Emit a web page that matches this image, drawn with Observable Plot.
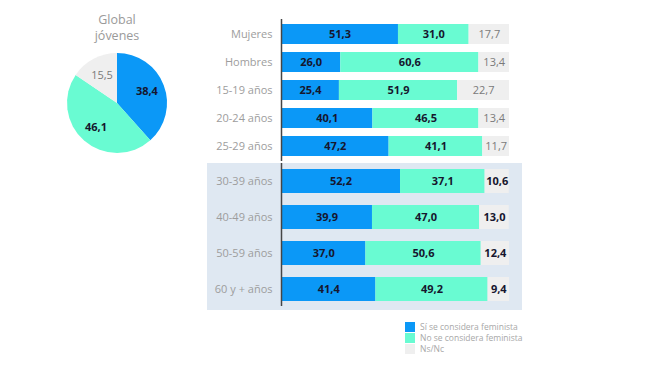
<!DOCTYPE html>
<html>
<head>
<meta charset="utf-8">
<script src="https://cdn.jsdelivr.net/npm/d3@7"></script>
<script src="https://cdn.jsdelivr.net/npm/@observablehq/plot@0.6"></script>
<style>
  body { margin: 0; background: #fff; font-family: "Open Sans", sans-serif; }
  #wrap { position: relative; width: 650px; height: 365px; overflow: hidden; }
  #wrap > * { position: absolute; }
  #panel { left: 207px; top: 163px; width: 315px; height: 147px; background: #dfe8f2; }
  #legend { left: 405px; top: 321px; font-size: 8.5px; color: #a8a8a8; line-height: 11px; }
  #legend div { display: flex; align-items: center; height: 11px; }
  #legend span.sw { display: inline-block; width: 10px; height: 10px; margin-right: 5px; }
</style>
</head>
<body>
<div id="wrap">
  <div id="panel"></div>
</div>
<script>
const categories = ["Mujeres", "Hombres", "15-19 años", "20-24 años", "25-29 años",
                    "30-39 años", "40-49 años", "50-59 años", "60 y + años"];
const siValues = [51.3, 26.0, 25.4, 40.1, 47.2, 52.2, 39.9, 37.0, 41.4];
const noValues = [31.0, 60.6, 51.9, 46.5, 41.1, 37.1, 47.0, 50.6, 49.2];
const nsValues = [17.7, 13.4, 22.7, 13.4, 11.7, 10.6, 13.0, 12.4, 9.4];
const series = ["Sí se considera feminista", "No se considera feminista", "Ns/Nc"];
const colors = ["#0b98f7", "#69fbd2", "#efefef"];
const pieTitle = ["Global", "jóvenes"];
const pieValues = [38.4, 46.1, 15.5];

const fmt = v => v.toFixed(1).replace(".", ",");
const dark = "#16162e";

const rows = [];
categories.forEach((c, i) => {
  [siValues[i], noValues[i], nsValues[i]].forEach((v, s) => {
    rows.push({cat: c, serie: series[s], s, value: v, group: i < 5 ? 0 : 1});
  });
});

function barChart(group, height, mTop, mBottom, inset) {
  const data = rows.filter(d => d.group === group);
  const cats = categories.filter((c, i) => (i < 5 ? 0 : 1) === group);
  const isBold = d => d.s < 2 || group === 1;
  return Plot.plot({
    width: 650,
    height,
    marginLeft: 281,
    marginRight: 141,
    marginTop: mTop,
    marginBottom: mBottom,
    style: {background: "transparent", fontFamily: "Open Sans, sans-serif"},
    x: {domain: [0, 100], axis: null},
    y: {domain: cats, padding: 0, axis: null},
    color: {domain: series, range: colors},
    marks: [
      Plot.barX(data, Plot.stackX({x: "value", y: "cat", fill: "serie", order: series, insetTop: inset, insetBottom: inset})),
      Plot.text(data, Plot.stackX({x: "value", y: "cat", z: "serie", order: series,
        text: d => isBold(d) ? fmt(d.value) : "", fill: dark, fontWeight: "bold", fontSize: 11})),
      Plot.text(data, Plot.stackX({x: "value", y: "cat", z: "serie", order: series,
        text: d => isBold(d) ? "" : fmt(d.value), fill: "#7a7a7a", fontSize: 11})),
      Plot.axisY({tickSize: 0, tickPadding: 9, fontSize: 11, color: "#9d9d9d", label: null}),
      Plot.ruleX([0], {stroke: "#454545", strokeWidth: 1.5, insetBottom: group === 1 ? 1 : 0})
    ]
  });
}

const wrap = document.getElementById("wrap");
const top1 = barChart(0, 165, 19, 4, 4);
top1.style.left = "0px"; top1.style.top = "0px";
wrap.appendChild(top1);
const bot = barChart(1, 147, 0, 3, 6);
bot.style.left = "0px"; bot.style.top = "163px";
wrap.appendChild(bot);

// Pie
const cx = 117, cy = 103, r = 50;
const svg = d3.create("svg").attr("width", 240).attr("height", 170)
  .style("left", "0px").style("top", "0px")
  .style("font-family", "Open Sans, sans-serif");
svg.append("text").attr("x", cx).attr("y", 24).attr("text-anchor", "middle")
  .attr("fill", "#9a9a9a").attr("font-size", 12.5).text(pieTitle[0]);
svg.append("text").attr("x", cx).attr("y", 40).attr("text-anchor", "middle")
  .attr("fill", "#9a9a9a").attr("font-size", 12.5).text(pieTitle[1]);
const arcs = d3.pie().sort(null)(pieValues);
const arc = d3.arc().innerRadius(0).outerRadius(r);
const labelArc = d3.arc().innerRadius(32).outerRadius(32);
const g = svg.append("g").attr("transform", `translate(${cx},${cy})`);
g.selectAll("path").data(arcs).join("path")
  .attr("d", arc).attr("fill", (d, i) => colors[i]);
g.selectAll("text").data(arcs).join("text")
  .attr("transform", d => `translate(${labelArc.centroid(d)})`)
  .attr("text-anchor", "middle").attr("dy", "0.35em")
  .attr("font-size", 11)
  .attr("font-weight", (d, i) => i < 2 ? "bold" : "normal")
  .attr("fill", (d, i) => i < 2 ? dark : "#7a7a7a")
  .text(d => fmt(d.data));
wrap.appendChild(svg.node());

// Legend
const legend = document.createElement("div");
legend.id = "legend";
series.forEach((s, i) => {
  const row = document.createElement("div");
  const sw = document.createElement("span");
  sw.className = "sw"; sw.style.background = colors[i];
  row.appendChild(sw);
  row.appendChild(document.createTextNode(s));
  legend.appendChild(row);
});
wrap.appendChild(legend);
</script>
</body>
</html>
